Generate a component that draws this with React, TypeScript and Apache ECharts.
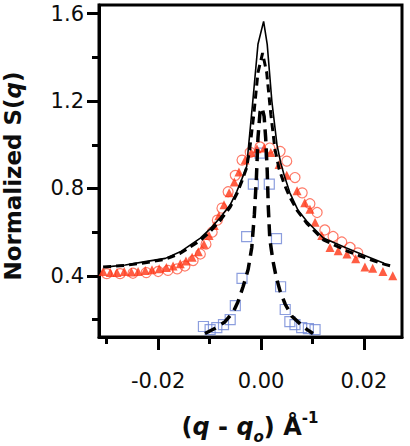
import React, { useEffect, useRef } from "react";
import * as echarts from "echarts";

// Axis extents and tick values
const X_MIN = -0.0315;
const X_MAX = 0.0274;
const Y_MIN = 0.12;
const Y_MAX = 1.64;
const X_MAJOR = [-0.02, 0.0, 0.02];
const X_MINOR = [-0.03, -0.01, 0.01];
const Y_MAJOR = [0.4, 0.8, 1.2, 1.6];
const Y_MINOR = [0.2, 0.6, 1.0, 1.4];

// Solid black fit
const qSolid = [-0.0305, -0.0264, -0.0225, -0.0186, -0.0157, -0.0118, -0.0099, -0.008, -0.006, -0.0047, -0.0037, -0.0028, -0.0024, -0.0016, -0.0006, 0.0005, 0.0012, 0.0021, 0.0031, 0.0038, 0.0045, 0.0056, 0.0072, 0.0089, 0.0121, 0.0166, 0.0205, 0.0239];
const sSolid = [0.44, 0.45, 0.465, 0.48, 0.51, 0.573, 0.615, 0.665, 0.725, 0.787, 0.845, 0.9, 1.0, 1.2, 1.46, 1.565, 1.46, 1.2, 1.0, 0.92, 0.86, 0.78, 0.7, 0.65, 0.573, 0.527, 0.49, 0.458];

// Broad dashed fit
const qBroad = [-0.0307, -0.0264, -0.0225, -0.0186, -0.0157, -0.0118, -0.0099, -0.008, -0.006, -0.0047, -0.0037, -0.0028, -0.0022, -0.0014, -0.0006, 0.0003, 0.0011, 0.0019, 0.0027, 0.0035, 0.0045, 0.0056, 0.007, 0.0089, 0.0121, 0.0166, 0.0205, 0.0237, 0.0256];
const sBroad = [0.44, 0.448, 0.46, 0.476, 0.503, 0.562, 0.602, 0.652, 0.715, 0.775, 0.835, 0.895, 0.98, 1.14, 1.33, 1.42, 1.33, 1.14, 0.98, 0.89, 0.82, 0.76, 0.7, 0.64, 0.565, 0.515, 0.48, 0.455, 0.443];

// Narrow dashed fit
const qNarrow = [-0.0109, -0.0089, -0.007, -0.0054, -0.0045, -0.0035, -0.0025, -0.0018, -0.0013, -0.0009, -0.0006, -0.0002, 0.0002, 0.0006, 0.0009, 0.0012, 0.0014, 0.0017, 0.0023, 0.0029, 0.0037, 0.0047, 0.006, 0.0076, 0.0089, 0.0101];
const sNarrow = [0.136, 0.16, 0.19, 0.235, 0.28, 0.35, 0.43, 0.53, 0.68, 0.85, 1.03, 1.15, 1.17, 1.13, 1.03, 0.88, 0.72, 0.57, 0.47, 0.4, 0.33, 0.27, 0.215, 0.18, 0.155, 0.136];

// Open squares
const qSquares = [-0.0112, -0.0099, -0.0086, -0.0073, -0.006, -0.005, -0.0037, -0.0028, -0.0015, -0.0002, 0.0016, 0.003, 0.0038, 0.0047, 0.0056, 0.0066, 0.0079, 0.0092, 0.0105];
const sSquares = [0.168, 0.154, 0.163, 0.177, 0.2, 0.264, 0.388, 0.58, 0.82, 0.962, 0.82, 0.57, 0.35, 0.246, 0.19, 0.177, 0.163, 0.158, 0.154];

// Filled triangles
const qTriangles = [-0.0307, -0.0293, -0.028, -0.0266, -0.0252, -0.0239, -0.0225, -0.0212, -0.0198, -0.0184, -0.0171, -0.0157, -0.0146, -0.0134, -0.0122, -0.0111, -0.0101, -0.0091, -0.0082, -0.0072, -0.0062, -0.0052, -0.0043, -0.0031, -0.0019, -0.0008, 0.0006, 0.0019, 0.0035, 0.005, 0.007, 0.0085, 0.0095, 0.0105, 0.0118, 0.0134, 0.015, 0.0167, 0.0184, 0.0202, 0.0217, 0.0237, 0.0256];
const sTriangles = [0.42, 0.415, 0.415, 0.42, 0.418, 0.42, 0.425, 0.428, 0.432, 0.438, 0.445, 0.455, 0.468, 0.485, 0.51, 0.545, 0.585, 0.63, 0.675, 0.725, 0.78, 0.83, 0.875, 0.93, 0.965, 0.982, 0.985, 0.965, 0.91, 0.86, 0.79, 0.735, 0.705, 0.645, 0.585, 0.53, 0.515, 0.5, 0.478, 0.44, 0.435, 0.42, 0.4];

// Open circles
const qCircles = [-0.03, -0.0274, -0.0249, -0.0223, -0.02, -0.0181, -0.0163, -0.0148, -0.0132, -0.0118, -0.0107, -0.0095, -0.0085, -0.0076, -0.0064, -0.005, -0.0037, -0.0021, -0.0002, 0.0017, 0.0037, 0.005, 0.0066, 0.008, 0.0095, 0.0109, 0.0124, 0.014, 0.0157, 0.0173, 0.0188];
const sCircles = [0.41, 0.41, 0.412, 0.415, 0.42, 0.425, 0.432, 0.445, 0.47, 0.5, 0.545, 0.6, 0.655, 0.71, 0.785, 0.86, 0.93, 0.965, 0.99, 0.985, 0.97, 0.925, 0.85, 0.78, 0.73, 0.69, 0.61, 0.58, 0.555, 0.53, 0.505];

const pairs = (xs: number[], ys: number[]) => xs.map((x, i) => [x, ys[i]]);

const FONT = "DejaVu Sans";
const RED_FILL = "#ff3414";
const RED_LINE = "#ff5a44";
const BLUE = "#6f86d6";
const INK = "#0d0d0d";

export default function App() {
  const ref = useRef<HTMLDivElement>(null);

  useEffect(() => {
    if (!ref.current) return;
    const chart = echarts.init(ref.current, undefined, { renderer: "svg" });

    const xBase = {
      type: "value" as const,
      min: X_MIN,
      max: X_MAX,
      position: "bottom" as const,
      splitLine: { show: false },
    };
    const yBase = {
      type: "value" as const,
      min: Y_MIN,
      max: Y_MAX,
      position: "left" as const,
      splitLine: { show: false },
    };
    const tickLine = { color: "#000", width: 3 };

    chart.setOption({
      animation: false,
      backgroundColor: "#fff",
      grid: {
        left: 99,
        top: 5,
        width: 303,
        height: 332,
        show: true,
        borderColor: "#000",
        borderWidth: 3,
        backgroundColor: "transparent",
        containLabel: false,
        outerBoundsMode: "none",
      },
      xAxis: [
        {
          ...xBase,
          axisLine: { show: true, onZero: false, lineStyle: tickLine },
          axisTick: { show: true, inside: false, length: 13, customValues: X_MAJOR, lineStyle: tickLine },
          axisLabel: {
            show: true,
            customValues: X_MAJOR,
            margin: 33,
            fontFamily: FONT,
            fontSize: 21,
            color: INK,
            formatter: (v: number) => v.toFixed(2),
          },
        },
        {
          ...xBase,
          axisLine: { show: false, onZero: false },
          axisTick: { show: true, inside: false, length: 7, customValues: X_MINOR, lineStyle: tickLine },
          axisLabel: { show: false, customValues: X_MINOR },
        },
      ],
      yAxis: [
        {
          ...yBase,
          axisLine: { show: true, onZero: false, lineStyle: tickLine },
          axisTick: { show: true, inside: false, length: 12, customValues: Y_MAJOR, lineStyle: tickLine },
          axisLabel: {
            show: true,
            customValues: Y_MAJOR,
            margin: 15,
            fontFamily: FONT,
            fontSize: 21,
            color: INK,
            formatter: (v: number) => v.toFixed(1),
          },
        },
        {
          ...yBase,
          axisLine: { show: false, onZero: false },
          axisTick: { show: true, inside: false, length: 7, customValues: Y_MINOR, lineStyle: tickLine },
          axisLabel: { show: false, customValues: Y_MINOR },
        },
      ],
      series: [
        {
          type: "scatter",
          data: pairs(qSquares, sSquares),
          symbol: "rect",
          symbolSize: 10,
          itemStyle: { color: "rgba(255,255,255,0)", borderColor: BLUE, borderWidth: 1.2 },
        },
        {
          type: "scatter",
          data: pairs(qCircles, sCircles),
          symbol: "circle",
          symbolSize: 10,
          itemStyle: { color: "rgba(255,255,255,0)", borderColor: RED_LINE, borderWidth: 1.2 },
        },
        {
          type: "scatter",
          data: pairs(qTriangles, sTriangles),
          symbol: "triangle",
          symbolSize: 9,
          itemStyle: { color: RED_FILL },
        },
        {
          type: "line",
          data: pairs(qSolid, sSolid),
          showSymbol: false,
          lineStyle: { color: "#000", width: 1.6, type: "solid" },
        },
        {
          type: "line",
          data: pairs(qBroad, sBroad),
          showSymbol: false,
          lineStyle: { color: "#000", width: 3, type: [8, 5] },
        },
        {
          type: "line",
          data: pairs(qNarrow, sNarrow),
          showSymbol: false,
          lineStyle: { color: "#000", width: 3.5, type: [12, 7] },
        },
      ],
      graphic: [
        {
          type: "text",
          x: 13,
          y: 176,
          rotation: Math.PI / 2,
          style: {
            text: "{b|Normalized S(}{i|q}{b|)}",
            align: "center",
            verticalAlign: "middle",
            fill: INK,
            rich: {
              b: { fontFamily: FONT, fontSize: 23, fontWeight: "bold", fill: INK },
              i: { fontFamily: FONT, fontSize: 23, fontWeight: "bold", fontStyle: "italic", fill: INK },
            },
          },
        },
        {
          type: "text",
          x: 250,
          y: 427,
          style: {
            text: "{b|(}{i|q}{b| - }{i|q}{sub|o}{b|) Å}{sup|-1}",
            align: "center",
            verticalAlign: "middle",
            fill: INK,
            rich: {
              b: { fontFamily: FONT, fontSize: 24, fontWeight: "bold", fill: INK, lineHeight: 34 },
              i: { fontFamily: FONT, fontSize: 24, fontWeight: "bold", fontStyle: "italic", fill: INK, lineHeight: 34 },
              sub: { fontFamily: FONT, fontSize: 15, fontWeight: "bold", fontStyle: "italic", fill: INK, verticalAlign: "bottom", lineHeight: 34 },
              sup: { fontFamily: FONT, fontSize: 15, fontWeight: "bold", fill: INK, verticalAlign: "top", lineHeight: 34 },
            },
          },
        },
      ],
    });

    return () => chart.dispose();
  }, []);

  return (
    <div
      ref={ref}
      style={{ position: "fixed", left: 0, top: 0, width: 410, height: 446, background: "#fff" }}
    />
  );
}
